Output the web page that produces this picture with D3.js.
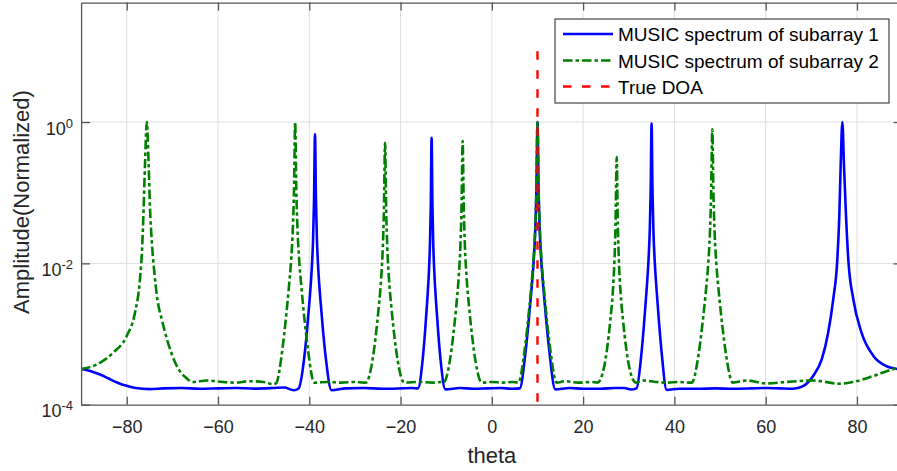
<!DOCTYPE html>
<html><head><meta charset="utf-8">
<script src="https://cdn.jsdelivr.net/npm/d3@7"></script>
<style>
html,body{margin:0;padding:0;background:#fff;}
svg{display:block;font-family:"Liberation Sans",Arial,Helvetica,sans-serif;}
</style>
</head><body>
<svg id="chart" width="897" height="471"></svg>
<script>
// ---------------- data ----------------
const thetaTicks = [-80, -60, -40, -20, 0, 20, 40, 60, 80];
const ampTicks = [1e-4, 1e-2, 1];
const ampTickExponents = ["-4", "-2", "0"];
const thetaDomain = [-90, 90];
const ampDomain = [1e-4, 49];
const seriesNames = ["MUSIC spectrum of subarray 1", "MUSIC spectrum of subarray 2", "True DOA"];
const trueDOA = 10;
const doaSpan = [1e-4, 10];

// MUSIC spectrum of subarray 1: [theta, amplitude]
const subarray1 = [
  [-90,3.2e-4],[-88,3.0e-4],[-86,2.7e-4],[-84,2.35e-4],[-82,2.05e-4],[-80,1.85e-4],[-78,1.72e-4],
  [-75,1.66e-4],[-72,1.7e-4],[-68,1.72e-4],[-64,1.68e-4],[-60,1.7e-4],[-56,1.72e-4],[-52,1.69e-4],
  [-48,1.72e-4],[-45.5,1.75e-4],[-43.4,1.6e-4],
  [-42.35,1.7e-4],[-41.15,4.4e-4],[-40.55,1.04e-3],[-39.95,2.98e-3],[-39.47,8.2e-3],[-39.17,0.0221],
  [-38.97,0.0737],[-38.75,0.67],[-38.53,0.0737],[-38.33,0.0221],[-38.03,8.2e-3],[-37.55,2.98e-3],
  [-36.95,1.04e-3],[-36.35,4.4e-4],[-35.15,1.6e-4],
  [-32,1.7e-4],[-28,1.72e-4],[-24,1.68e-4],[-20,1.7e-4],[-17.5,1.72e-4],
  [-16.2,1.7e-4],[-15.2,4.1e-4],[-14.7,9.5e-4],[-14.2,2.69e-3],[-13.8,7.37e-3],[-13.55,0.02],
  [-13.38,0.0662],[-13.2,0.6],[-13.02,0.0662],[-12.85,0.02],[-12.6,7.37e-3],[-12.2,2.69e-3],
  [-11.7,9.5e-4],[-11.2,4.1e-4],[-10.2,1.65e-4],
  [-7,1.72e-4],[-4,1.68e-4],[-1,1.7e-4],[2,1.72e-4],[4.5,1.68e-4],
  [6.1,1.7e-4],[7.4,5.7e-4],[8.05,1.47e-3],[8.7,4.37e-3],[9.22,0.0122],[9.545,0.0332],[9.766,0.11],
  [10,1.0],[10.234,0.11],[10.455,0.0332],[10.78,0.0122],[11.3,4.37e-3],[11.95,1.47e-3],[12.6,5.7e-4],
  [13.9,1.65e-4],
  [17,1.72e-4],[20,1.68e-4],[23.7,1.68e-4],[27,1.72e-4],[29,1.72e-4],[30.5,1.64e-4],
  [31.7,1.7e-4],[32.8,5.5e-4],[33.35,1.41e-3],[33.9,4.16e-3],[34.34,0.0116],[34.615,0.0315],
  [34.8,0.1047],[35,0.95],[35.2,0.1047],[35.385,0.0315],[35.66,0.0116],[36.1,4.16e-3],
  [36.65,1.41e-3],[37.2,5.5e-4],[38.3,1.62e-4],
  [41,1.68e-4],[45,1.68e-4],[49,1.7e-4],[53,1.68e-4],[57,1.7e-4],[60,1.72e-4],[63,1.7e-4],
  [66,1.68e-4],[68.2,1.83e-4],[70.4,2.55e-4],[72.3,4.4e-4],[73.7,1.05e-3],[74.8,3.1e-3],
  [75.7,0.0114],[76.13,0.047],[76.43,0.24],[76.8,1.0],[77.16,0.24],[77.6,0.047],[78.1,0.0114],
  [79.2,3.1e-3],[81.0,1.05e-3],[83.6,4.9e-4],[86.5,3.5e-4],[88.8,3.2e-4],[90,3.1e-4]
];

// MUSIC spectrum of subarray 2: [theta, amplitude]
const subarray2 = [
  [-90,3.2e-4],[-86.6,3.7e-4],[-82.9,5.5e-4],[-80,9.4e-4],[-78.2,2.0e-3],[-77.1,6.0e-3],
  [-76.6,0.018],[-76.3,0.06],[-76.0,0.25],[-75.6,1.0],[-75.2,0.25],[-74.9,0.06],[-74.5,0.02],
  [-74.0,8.0e-3],[-73.4,3.5e-3],[-72.2,1.5e-3],[-71.2,8.5e-4],[-69.0,3.5e-4],[-67.0,2.4e-4],
  [-65.5,2.1e-4],[-62.5,2.2e-4],[-59.0,2.1e-4],[-56.5,2.05e-4],[-53.0,2.15e-4],[-50.0,2.1e-4],
  [-48.0,1.95e-4],
  [-47.3,2.0e-4],[-45.9,6.05e-4],[-45.2,1.5e-3],[-44.5,4.4e-3],[-43.94,0.0122],[-43.59,0.0332],
  [-43.35,0.11],[-43.1,1.0],[-42.85,0.11],[-42.61,0.0332],[-42.26,0.0122],[-41.7,4.4e-3],
  [-41.0,1.5e-3],[-40.3,6.05e-4],[-38.9,2.05e-4],
  [-36,2.1e-4],[-33,2.05e-4],[-30,2.1e-4],[-28,2.05e-4],
  [-27.6,2.05e-4],[-26.2,4.1e-4],[-25.5,8.7e-4],[-24.8,2.35e-3],[-24.24,6.3e-3],[-23.89,0.017],
  [-23.65,0.0561],[-23.4,0.51],[-23.15,0.0561],[-22.91,0.017],[-22.56,6.3e-3],[-22.0,2.35e-3],
  [-21.3,8.7e-4],[-20.6,4.1e-4],[-19.2,2.05e-4],
  [-16,2.1e-4],[-13,2.05e-4],[-11,2.1e-4],
  [-10.6,2.05e-4],[-9.2,4.2e-4],[-8.5,9.1e-4],[-7.8,2.47e-3],[-7.24,6.7e-3],[-6.89,0.018],
  [-6.65,0.0594],[-6.4,0.54],[-6.15,0.0594],[-5.91,0.018],[-5.56,6.7e-3],[-5.0,2.47e-3],
  [-4.3,9.1e-4],[-3.6,4.2e-4],[-2.2,2.05e-4],
  [0,2.1e-4],[2.5,2.05e-4],[4.5,2.1e-4],
  [5.8,2.05e-4],[7.2,6.05e-4],[7.9,1.5e-3],[8.6,4.4e-3],[9.16,0.0122],[9.51,0.0332],[9.75,0.11],
  [10,1.0],[10.25,0.11],[10.49,0.0332],[10.84,0.0122],[11.4,4.4e-3],[12.1,1.5e-3],[12.8,6.05e-4],
  [14.2,2.05e-4],
  [16,2.15e-4],[19,2.05e-4],[22,2.1e-4],
  [23.15,2.05e-4],[24.55,3.3e-4],[25.25,6.2e-4],[25.95,1.55e-3],[26.51,4.0e-3],[26.86,0.0108],
  [27.1,0.0352],[27.35,0.32],[27.6,0.0352],[27.84,0.0108],[28.19,4.0e-3],[28.75,1.55e-3],
  [29.45,6.2e-4],[30.15,3.3e-4],[31.55,2.05e-4],
  [33.2,2.2e-4],[36,2.1e-4],[38.3,2.05e-4],[41,2.1e-4],
  [43.8,2.05e-4],[45.3,5.2e-4],[46.05,1.23e-3],[46.8,3.5e-3],[47.4,9.7e-3],[47.775,0.026],
  [48.03,0.087],[48.3,0.79],[48.57,0.087],[48.825,0.026],[49.2,9.7e-3],[49.8,3.5e-3],
  [50.55,1.23e-3],[51.3,5.2e-4],[52.8,2.05e-4],
  [55.8,2.2e-4],[60.2,2.0e-4],[64.6,2.1e-4],[70.4,2.2e-4],[76.3,1.98e-4],[79.2,2.1e-4],
  [83.6,2.55e-4],[88,3.2e-4],[90,3.4e-4]
];

// ---------------- drawing ----------------
const svg = d3.select("#chart");
const plotL = 81.1, plotR = 902.6, plotT = 2.6, plotB = 404.7;
const x = d3.scaleLinear().domain(thetaDomain).range([plotL, plotR]);
const y = d3.scaleLog().domain(ampDomain).range([plotB, plotT]);

const axisColor = "#555";
const textColor = "#262626";
const gridColor = "#dedede";

svg.append("rect").attr("width", 897).attr("height", 471).attr("fill", "#fff");

svg.append("defs").append("clipPath").attr("id", "plotclip")
  .append("rect").attr("x", plotL).attr("y", plotT)
  .attr("width", plotR - plotL).attr("height", plotB - plotT);

// grid
const grid = svg.append("g");
grid.selectAll("line.vx").data(thetaTicks).join("line")
  .attr("x1", d => x(d)).attr("x2", d => x(d))
  .attr("y1", plotT).attr("y2", plotB)
  .attr("stroke", gridColor).attr("stroke-width", 1);
grid.selectAll("line.hy").data(ampTicks.filter(d => d > ampDomain[0])).join("line")
  .attr("x1", plotL).attr("x2", plotR)
  .attr("y1", d => y(d)).attr("y2", d => y(d))
  .attr("stroke", gridColor).attr("stroke-width", 1);

// series
const line = d3.line().x(d => x(d[0])).y(d => y(d[1])).curve(d3.curveMonotoneX);
const plot = svg.append("g").attr("clip-path", "url(#plotclip)");
plot.append("path").datum(subarray1).attr("d", line)
  .attr("fill", "none").attr("stroke", "#0000ff").attr("stroke-width", 2.6)
  .attr("stroke-linejoin", "round");
plot.append("path").datum(subarray2).attr("d", line)
  .attr("fill", "none").attr("stroke", "#008000").attr("stroke-width", 2.6)
  .attr("stroke-dasharray", "9.5,3,3.5,3").attr("stroke-linejoin", "round");
plot.append("line")
  .attr("x1", x(trueDOA)).attr("x2", x(trueDOA))
  .attr("y1", y(doaSpan[1])).attr("y2", y(doaSpan[0]))
  .attr("stroke", "#ff0000").attr("stroke-width", 2.4)
  .attr("stroke-dasharray", "8.5,10.5");

// axes (inward ticks, MATLAB-like box)
const axB = d3.axisBottom(x).tickValues(thetaTicks).tickSizeInner(-8).tickSizeOuter(0)
  .tickPadding(15.5).tickFormat(d3.format("d"));
const gB = svg.append("g").attr("transform", `translate(0,${plotB})`).call(axB);
const axT = d3.axisTop(x).tickValues(thetaTicks).tickSizeInner(-8).tickSizeOuter(0).tickFormat("");
const gT = svg.append("g").attr("transform", `translate(0,${plotT})`).call(axT);
const axL = d3.axisLeft(y).tickValues(ampTicks).tickSizeInner(-9).tickSizeOuter(0).tickFormat("");
const gL = svg.append("g").attr("transform", `translate(${plotL},0)`).call(axL);
const axR = d3.axisRight(y).tickValues(ampTicks).tickSizeInner(-9).tickSizeOuter(0).tickFormat("");
const gR = svg.append("g").attr("transform", `translate(${plotR},0)`).call(axR);
[gB, gT, gL, gR].forEach(g => {
  g.select(".domain").attr("stroke", axisColor).attr("stroke-width", 1.3);
  g.selectAll(".tick line").attr("stroke", axisColor).attr("stroke-width", 1.3);
});
gB.selectAll(".tick text").attr("fill", textColor).attr("font-size", 18)
  .attr("font-family", "'Liberation Sans',Arial,sans-serif");

// y tick labels 10^k
const yl = svg.append("g");
ampTicks.forEach((v, i) => {
  const t = yl.append("text").attr("x", 73).attr("y", y(v) + 12.5)
    .attr("text-anchor", "end").attr("fill", textColor).attr("font-size", 18);
  t.append("tspan").text("10");
  t.append("tspan").attr("dy", -7).attr("font-size", 13).text(ampTickExponents[i]);
});

// axis titles
svg.append("text").attr("x", (plotL + plotR) / 2).attr("y", 463)
  .attr("text-anchor", "middle").attr("fill", textColor).attr("font-size", 22).text("theta");
svg.append("text").attr("transform", "translate(29,202) rotate(-90)")
  .attr("text-anchor", "middle").attr("fill", textColor).attr("font-size", 22)
  .text("Amplitude(Normalized)");

// legend
const lg = svg.append("g");
lg.append("rect").attr("x", 555).attr("y", 19).attr("width", 334).attr("height", 84)
  .attr("fill", "#fff").attr("stroke", "#444").attr("stroke-width", 1.2);
const legStyles = [
  {color: "#0000ff", dash: null, w: 2.6},
  {color: "#008000", dash: "9.5,3,3.5,3", w: 2.6},
  {color: "#ff0000", dash: "8.5,10.5", w: 2.4}
];
const rowY = [34, 60.5, 86.5];
seriesNames.forEach((name, i) => {
  const s = legStyles[i];
  const ln = lg.append("line").attr("x1", 563).attr("x2", 613)
    .attr("y1", rowY[i]).attr("y2", rowY[i])
    .attr("stroke", s.color).attr("stroke-width", s.w);
  if (s.dash) ln.attr("stroke-dasharray", s.dash);
  lg.append("text").attr("x", 618).attr("y", rowY[i] + 7)
    .attr("fill", "#000").attr("font-size", 19).text(name);
});
</script>
</body></html>
